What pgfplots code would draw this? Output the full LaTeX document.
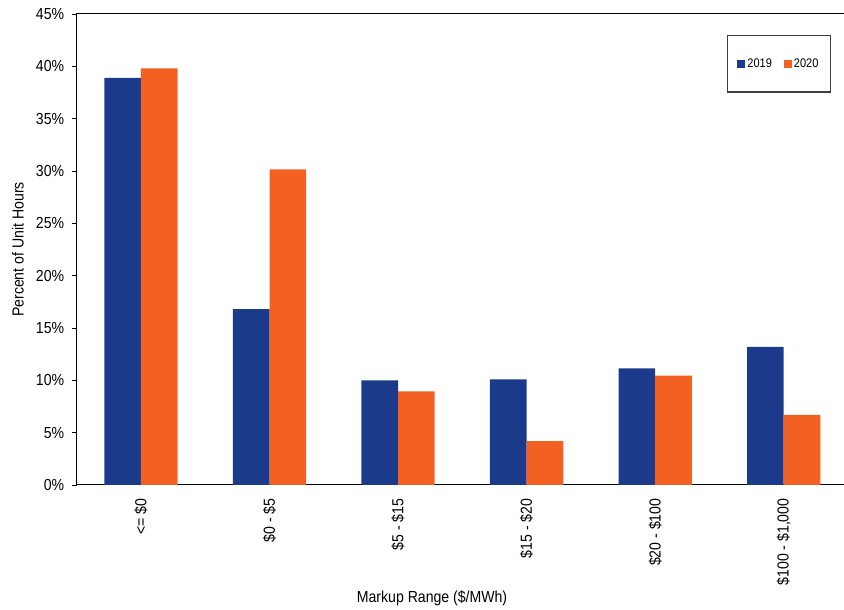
\documentclass[border=0pt]{standalone}
\usepackage{fontspec}
\setmainfont{Liberation Sans}[FakeStretch=0.88]
\usepackage{pgfplots}
\pgfplotsset{compat=1.18}
\definecolor{cBlue}{HTML}{1B3A8A}
\definecolor{cOrange}{HTML}{F26122}
\begin{document}
\begin{tikzpicture}
\begin{axis}[
  scale only axis,
  width=771.3pt, height=471pt,
  xmin=-0.5, xmax=5.5,
  ymin=0, ymax=45,
  ybar=0pt, bar width=0.285,
  ytick={0,5,...,45},
  yticklabels={0\%,5\%,10\%,15\%,20\%,25\%,30\%,35\%,40\%,45\%},
  xtick={0,1,2,3,4,5},
  xticklabels={{<= \$0},{\$0 - \$5},{\$5 - \$15},{\$15 - \$20},{\$20 - \$100},{\$100 - \$1,000}},
  major x tick style={draw=none},
  extra x ticks={0.5,1.5,2.5,3.5,4.5},
  extra x tick labels={},
  extra x tick style={major tick length=7pt, tick align=outside, tick style={black, line width=0.8pt}},
  tick align=outside,
  major tick length=5pt,
  ytick style={black, line width=0.8pt},
  axis line style={black, line width=1pt},
  tick label style={font=\fontsize{16}{18}\selectfont},
  xticklabel style={rotate=90, anchor=east, xshift=-5pt},
  yticklabel style={anchor=east, xshift=-4pt},
  ylabel={Percent of Unit Hours},
  ylabel style={font=\fontsize{16}{18}\selectfont, at={(axis description cs:-0.0761,0.5)}, anchor=center, rotate=0},
  xlabel={Markup Range (\$/MWh)},
  xlabel style={font=\fontsize{16}{18}\selectfont, at={(axis description cs:0.4607,0)}, anchor=center, yshift=-113pt},
  legend columns=2,
  legend image code/.code={\fill[#1] (0pt,-4pt) rectangle (8pt,4pt);},
  legend style={at={(axis description cs:0.978,0.955)}, anchor=north east,
    draw={rgb,255:red,64;green,64;blue,64}, line width=1.3pt,
    inner xsep=10pt, inner ysep=21pt,
    font=\fontsize{12.5}{14}\selectfont,
    /tikz/every even column/.append style={column sep=10pt},
    nodes={inner xsep=2pt}},
]
\addplot[fill=cBlue, draw=none] coordinates {(0,38.9) (1,16.8) (2,10.0) (3,10.1) (4,11.15) (5,13.2)};
\addplot[fill=cOrange, draw=none] coordinates {(0,39.8) (1,30.15) (2,8.95) (3,4.2) (4,10.45) (5,6.7)};
\legend{2019,2020}
\coordinate (O) at (rel axis cs:0,0);
\end{axis}
\pgfresetboundingbox
\path[use as bounding box] ([shift={(-76.7pt,-125pt)}]O) rectangle ++(844pt,610pt);
\end{tikzpicture}
\end{document}
